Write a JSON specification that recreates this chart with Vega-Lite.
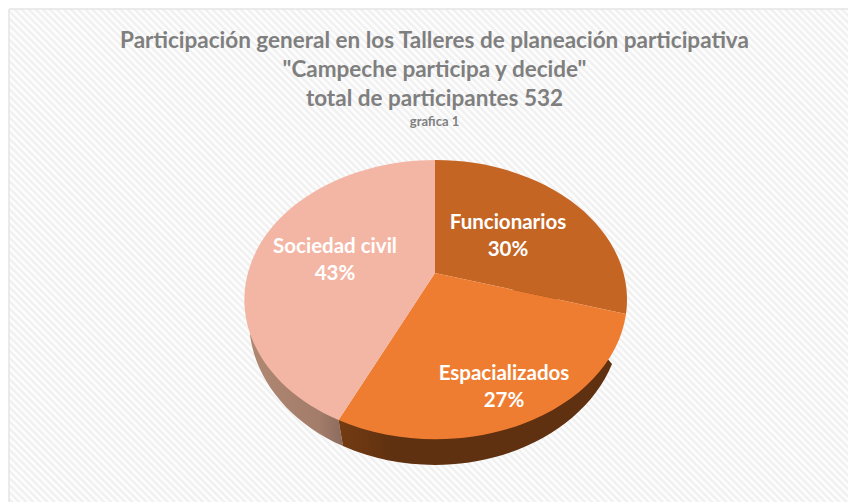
{
  "$schema": "https://vega.github.io/schema/vega-lite/v6.json",
  "width": 839,
  "height": 493,
  "autosize": "none",
  "padding": {"left": 9, "top": 9, "right": 0, "bottom": 0},
  "background": "#ffffff",
  "view": {"stroke": null, "fill": "#fdfdfd"},
  "title": {
    "text": ["Participación general en los Talleres de planeación participativa", "\"Campeche participa y decide\"", "total de participantes 532"],
    "subtitle": "grafica 1",
    "anchor": "middle",
    "frame": "group",
    "dx": 6,
    "offset": -121,
    "font": "Lato",
    "fontSize": 22.5,
    "fontWeight": "bold",
    "color": "#7f7f7f",
    "lineHeight": 29,
    "subtitleFont": "Lato",
    "subtitleFontSize": 13,
    "subtitleFontWeight": "bold",
    "subtitleColor": "#7f7f7f",
    "subtitlePadding": 6
  },
  "data": {"values": [
    {"categoria": "Funcionarios", "valor": 0.30},
    {"categoria": "Espacializados", "valor": 0.27},
    {"categoria": "Sociedad civil", "valor": 0.43}
  ]},
  "layer": [
    {
      "transform": [{"filter": "datum.categoria === 'Funcionarios'"}],
      "mark": {"type": "rule", "clip": true, "strokeWidth": 1500, "stroke": "#f1f1f1", "strokeDash": [2.5, 2.5]},
      "encoding": {
        "x": {"value": -330},
        "y": {"value": 996},
        "x2": {"value": 1170},
        "y2": {"value": -504}
      }
    },
    {
      "transform": [{"filter": "datum.categoria === 'Funcionarios'"}],
      "mark": {"type": "rule", "stroke": "#e4e4e4", "strokeWidth": 1.5},
      "encoding": {"x": {"value": 0}, "y": {"value": 0}, "y2": {"value": 493}}
    },
    {
      "transform": [{"filter": "datum.categoria === 'Funcionarios'"}],
      "mark": {"type": "rule", "stroke": "#e4e4e4", "strokeWidth": 1.5},
      "encoding": {"y": {"value": 0}, "x": {"value": 0}, "x2": {"value": 839}}
    },
    {
      "transform": [{"filter": "datum.categoria === 'Sociedad civil'"}],
      "mark": {
        "type": "point", "filled": true, "opacity": 1, "size": 4, "strokeWidth": 0,
        "shape": "M-96.5,147 L-92,173 A186,145 0 0 1 -185,62 L-100,0 Z",
        "fill": {"x1": 0, "y1": 0, "x2": 1, "y2": 0, "gradient": "linear", "stops": [{"offset": 0, "color": "#b08872"}, {"offset": 0.75, "color": "#a37c6a"}, {"offset": 1, "color": "#8b6b5e"}]}
      },
      "encoding": {"x": {"value": 426}, "y": {"value": 264}}
    },
    {
      "transform": [{"filter": "datum.categoria === 'Espacializados'"}],
      "mark": {
        "type": "point", "filled": true, "opacity": 1, "size": 4, "strokeWidth": 0,
        "shape": "M-96.5,147 L-92,173 A186,145 0 0 0 177,91 L100,0 Z",
        "fill": {"x1": 0, "y1": 0, "x2": 1, "y2": 0, "gradient": "linear", "stops": [{"offset": 0, "color": "#743c13"}, {"offset": 0.2, "color": "#5f3110"}, {"offset": 1, "color": "#5f3110"}]}
      },
      "encoding": {"x": {"value": 426}, "y": {"value": 264}}
    },
    {
      "mark": {"type": "point", "filled": true, "opacity": 1, "size": 4, "strokeWidth": 0},
      "encoding": {
        "x": {"value": 426},
        "y": {"value": 264},
        "shape": {
          "field": "categoria", "type": "nominal", "legend": null,
          "scale": {
            "domain": ["Funcionarios", "Espacializados", "Sociedad civil"],
            "range": [
              "M0,0 L0,-113 A191.5,139.7 0 0 1 191,41 Z",
              "M0,0 L191,41 A191.5,139.7 0 0 1 -96.5,147 Z",
              "M0,0 L-96.5,147 A191.5,139.7 0 0 1 0,-113 Z"
            ]
          }
        },
        "color": {
          "field": "categoria", "type": "nominal", "legend": null,
          "scale": {
            "domain": ["Funcionarios", "Espacializados", "Sociedad civil"],
            "range": ["#c46524", "#ef7d31", "#f4b6a4"]
          }
        }
      }
    },
    {
      "mark": {"type": "text", "font": "Lato", "fontWeight": "bold", "fontSize": 20.5, "color": "#ffffff", "baseline": "middle", "align": "center"},
      "encoding": {
        "x": {"field": "valor", "type": "quantitative", "axis": null, "scale": {"domain": [0.27, 0.30, 0.43], "range": [495, 499, 326]}},
        "y": {"field": "valor", "type": "quantitative", "axis": null, "scale": {"domain": [0.27, 0.30, 0.43], "range": [365, 214, 238]}},
        "text": {"field": "categoria", "type": "nominal"}
      }
    },
    {
      "mark": {"type": "text", "font": "Lato", "fontWeight": "bold", "fontSize": 20.5, "color": "#ffffff", "baseline": "middle", "align": "center", "dy": 27},
      "encoding": {
        "x": {"field": "valor", "type": "quantitative", "axis": null, "scale": {"domain": [0.27, 0.30, 0.43], "range": [495, 499, 326]}},
        "y": {"field": "valor", "type": "quantitative", "axis": null, "scale": {"domain": [0.27, 0.30, 0.43], "range": [365, 214, 238]}},
        "text": {"field": "valor", "type": "quantitative", "format": ".0%"}
      }
    }
  ]
}
